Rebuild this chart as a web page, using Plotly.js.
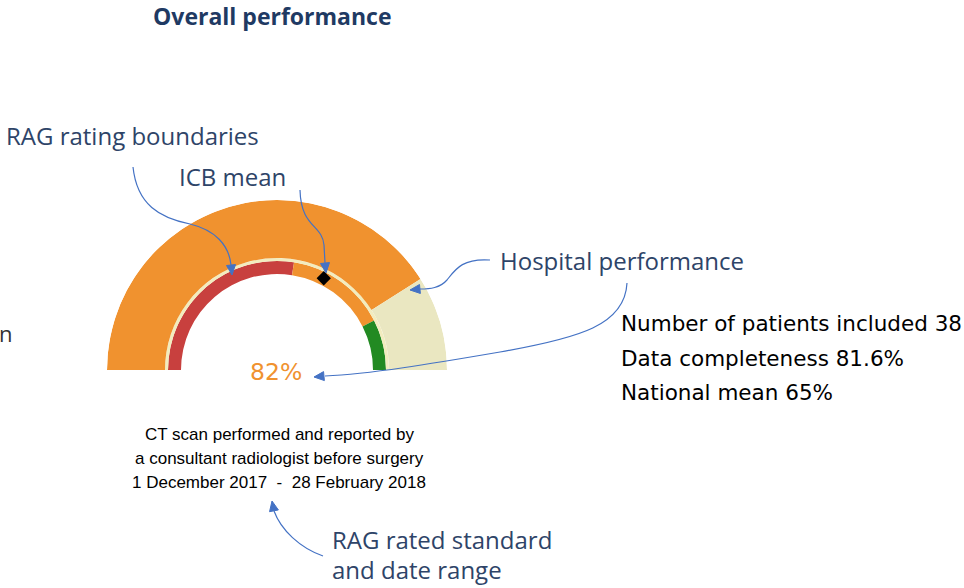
<!DOCTYPE html>
<html>
<head>
<meta charset="utf-8">
<script src="https://cdn.plot.ly/plotly-3.0.1.min.js"></script>
<style>html,body{margin:0;padding:0;background:#fff;}#chart{width:964px;height:588px;}</style>
</head>
<body>
<div id="chart"></div>
<script>
// ---- data ----
var hospitalValue = 82;          // hospital performance (%)
var icbMean = 65;                // ICB mean (%)
var ragBoundaries = [55, 85];    // red / amber / green boundaries (%)
var ragColors = ['#C8403E', '#F0922F', '#228A22'];
var statLines = ['Number of patients included 38', 'Data completeness 81.6%', 'National mean 65%'];
var standardLines = ['CT scan performed and reported by', 'a consultant radiologist before surgery', '1 December 2017\u00A0\u00A0-\u00A0\u00A028 February 2018'];

var W = 964, H = 588;
var DEG = 1.8; // percent -> degrees over half circle
function px(x){return x / W;}
function py(y){return 1 - y / H;}

// RAG inner band segments
var ragStarts = [0, ragBoundaries[0], ragBoundaries[1]];
var ragEnds = [ragBoundaries[0], ragBoundaries[1], 100];

var traces = [];
// inner RAG band
traces.push({
  type: 'barpolar',
  theta: ragStarts.map(function(s,i){return (s + ragEnds[i]) / 2 * DEG;}),
  width: ragStarts.map(function(s,i){return (ragEnds[i] - s) * DEG;}),
  r: [13, 13, 13], base: [96, 96, 96],
  marker: {color: ragColors, line: {width: 0}},
  hoverinfo: 'skip', showlegend: false
});
// thin separator line
traces.push({
  type: 'barpolar', theta: [90], width: [180], r: [3], base: [109],
  marker: {color: '#F2ECBE', line: {width: 0}}, hoverinfo: 'skip', showlegend: false
});
// outer hospital band: value + remainder
traces.push({
  type: 'barpolar',
  theta: [hospitalValue / 2 * DEG, (hospitalValue + 100) / 2 * DEG],
  width: [hospitalValue * DEG, (100 - hospitalValue) * DEG],
  r: [58, 58], base: [112, 112],
  marker: {color: ['#F0922F', '#EAE7C1'], line: {width: 0}},
  hoverinfo: 'skip', showlegend: false
});
// ICB mean marker
traces.push({
  type: 'scatterpolar', mode: 'markers',
  theta: [icbMean * DEG], r: [103],
  marker: {symbol: 'diamond', size: 11, color: '#000'},
  hoverinfo: 'skip', showlegend: false
});

// ---- curved arrows (decoration) ----
var arrowColor = '#4472C4';
function P(x,y){return px(x) + ',' + py(y);}
var curves = [
  'M' + P(133,167) + ' C' + P(137,205) + ' ' + P(160,218) + ' ' + P(190,224) + ' C' + P(215,230) + ' ' + P(229,245) + ' ' + P(231,265),
  'M' + P(300,190) + ' C' + P(301,228) + ' ' + P(322,224) + ' ' + P(324,245) + ' L' + P(325,263),
  'M' + P(490,260) + ' C' + P(462,258) + ' ' + P(455,270) + ' ' + P(447,280) + ' C' + P(440,288) + ' ' + P(430,289) + ' ' + P(420,289),
  'M' + P(627,283) + ' C' + P(625,325) + ' ' + P(580,338) + ' ' + P(500,352) + ' C' + P(430,364) + ' ' + P(370,374) + ' ' + P(325,376),
  'M' + P(323,556) + ' C' + P(300,548) + ' ' + P(281,530) + ' ' + P(274,511)
];
var heads = [[231,265,232,275],[325,263,326,273],[420,289,410,290],[325,376,314,377],[274,511,272,501]];
var shapes = curves.map(function(d){
  return {type:'path', xref:'paper', yref:'paper', path:d, line:{color:arrowColor, width:1.2}};
});
heads.forEach(function(h){
  var dx = h[2]-h[0], dy = h[3]-h[1], L = Math.sqrt(dx*dx+dy*dy);
  var ux = dx/L, uy = dy/L, len = 10, hw = 4.5;
  var bx = h[2]-ux*len, by = h[3]-uy*len;
  var d = 'M' + P(h[2],h[3]) + ' L' + P(bx - uy*hw, by + ux*hw) + ' L' + P(bx + uy*hw, by - ux*hw) + ' Z';
  shapes.push({type:'path', xref:'paper', yref:'paper', path:d, fillcolor:arrowColor, line:{color:arrowColor, width:1}});
});

// ---- text ----
var labelFont = {family:'"Open Sans", Lato, sans-serif', size:24, color:'#2E4468'};
var ann = [];
function A(text, x, y, xanchor, font){
  ann.push({text:text, x:px(x), y:py(y), xref:'paper', yref:'paper', xanchor:xanchor, yanchor:'middle', showarrow:false, font:font});
}
A('<b>Overall performance</b>', 272, 16, 'center', {family:'"Open Sans", Lato, sans-serif', size:23, color:'#1F3A63'});
A('RAG rating boundaries', 4, 135, 'left', labelFont);
A('ICB mean', 177, 177, 'left', labelFont);
A('Hospital performance', 498, 260, 'left', labelFont);
A('RAG rated standard', 330, 539, 'left', labelFont);
A('and date range', 330, 569, 'left', labelFont);
A('n', -3, 333, 'left', {family:'"Open Sans", sans-serif', size:22, color:'#333'});
A(hospitalValue + '%', 276, 372, 'center', {family:'"DejaVu Sans", sans-serif', size:23.5, color:'#F0922F'});
var statY = [323, 358, 392];
statLines.forEach(function(t,i){ A(t, 619, statY[i], 'left', {family:'"DejaVu Sans", sans-serif', size:21.5, color:'#000'}); });
var stdY = [434, 458, 482];
standardLines.forEach(function(t,i){ A(t, 279, stdY[i], 'center', {family:'"Liberation Sans", Arial, sans-serif', size:17, color:'#000'}); });

var layout = {
  width: W, height: H,
  margin: {l:0, r:0, t:0, b:0},
  paper_bgcolor: '#fff',
  showlegend: false,
  polar: {
    domain: {x:[px(107), px(447)], y:[py(370), py(200)]},
    sector: [0, 180],
    bgcolor: 'rgba(0,0,0,0)',
    bargap: 0,
    radialaxis: {range:[0,170], visible:false},
    angularaxis: {visible:false, rotation:180, direction:'clockwise', range:[0,180]}
  },
  shapes: shapes,
  annotations: ann
};
Plotly.newPlot('chart', traces, layout, {displayModeBar:false, staticPlot:true});
</script>
</body>
</html>
